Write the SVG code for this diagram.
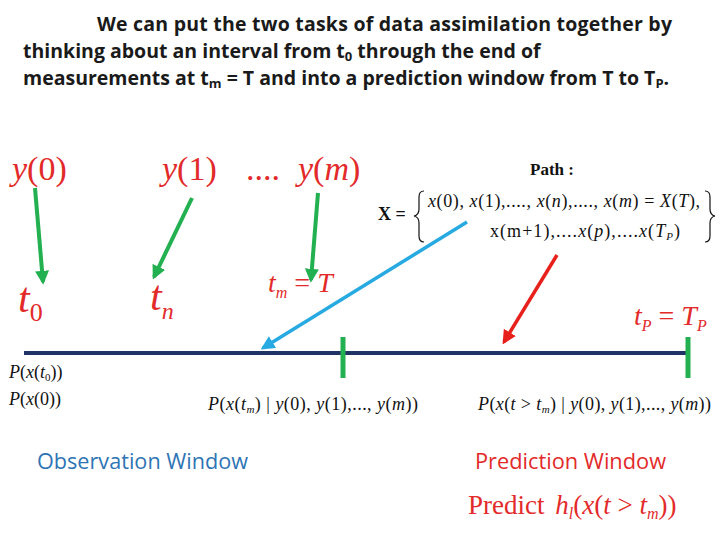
<svg xmlns="http://www.w3.org/2000/svg" width="720" height="540" viewBox="0 0 720 540">
<style>
.h{font-family:"Open Sans","Liberation Sans",sans-serif;font-weight:bold;font-size:19.5px;fill:#1a1a1a}
.m{font-family:"Liberation Serif",serif;font-style:italic}
.u{font-style:normal}
.r{fill:#e32a2a}
.k{fill:#111}
</style>
<defs>
<marker id="ag" viewBox="0 0 10 10" refX="8" refY="5" markerWidth="3.5" markerHeight="3.5" orient="auto"><path d="M0,0L10,5L0,10z" fill="#22b050"/></marker>
<marker id="ab" viewBox="0 0 10 10" refX="8" refY="5" markerWidth="4" markerHeight="4" orient="auto"><path d="M0,0L10,5L0,10z" fill="#27aae1"/></marker>
<marker id="ar" viewBox="0 0 10 10" refX="8" refY="5" markerWidth="4" markerHeight="4" orient="auto"><path d="M0,0L10,5L0,10z" fill="#e8201c"/></marker>
</defs>
<g id="title">
<text class="h" x="97" y="31" textLength="575">We can put the two tasks of data assimilation together by</text>
<text class="h" x="23" y="58">thinking about an interval from t<tspan font-size="13" dy="3">0</tspan><tspan dy="-3"> through the end of</tspan></text>
<text class="h" x="23" y="85">measurements at t<tspan font-size="13" dy="3">m</tspan><tspan dy="-3"> = T and into a prediction window from T to T</tspan><tspan font-size="13" dy="3">P</tspan><tspan dy="-3">.</tspan></text>
</g>
<g id="obs" class="m r" font-size="34">
<text x="12" y="180">y<tspan class="u">(0)</tspan></text>
<text x="162" y="180">y<tspan class="u">(1)</tspan></text>
<text x="246" y="180" class="u">....</text>
<text x="298" y="180">y<tspan class="u">(</tspan>m<tspan class="u">)</tspan></text>
</g>
<g id="times" class="m r">
<text x="18" y="312" font-size="42">t<tspan font-size="26" dy="9" class="u">0</tspan></text>
<text x="150" y="310" font-size="42">t<tspan font-size="24" dy="9">n</tspan></text>
<text x="268" y="292" font-size="28">t<tspan font-size="16" dy="6">m</tspan><tspan dy="-6" class="u"> = </tspan>T</text>
<text x="634" y="325" font-size="28">t<tspan font-size="16" dy="6">P</tspan><tspan dy="-6" class="u"> = </tspan>T<tspan font-size="16" dy="6">P</tspan></text>
</g>
<g id="path" class="k">
<text x="530" y="175" font-family="Liberation Serif,serif" font-weight="bold" font-size="17">Path :</text>
<text x="378" y="220" font-family="Liberation Serif,serif" font-weight="bold" font-size="18">X =</text>
<path d="M424,191 Q419,191 419,197 L419,209 Q419,215 414,216 Q419,217 419,223 L419,236 Q419,242 424,242" fill="none" stroke="#111" stroke-width="1.2"/>
<path d="M705,191 Q710,191 710,197 L710,209 Q710,215 715,216 Q710,217 710,223 L710,236 Q710,242 705,242" fill="none" stroke="#111" stroke-width="1.2"/>
<text class="m" x="428" y="207" font-size="18" textLength="272">x<tspan class="u">(0), </tspan>x<tspan class="u">(1),...., </tspan>x<tspan class="u">(</tspan>n<tspan class="u">),...., </tspan>x<tspan class="u">(</tspan>m<tspan class="u">) = </tspan>X<tspan class="u">(</tspan>T<tspan class="u">),</tspan></text>
<text class="m" x="490" y="237" font-size="18" textLength="190"><tspan class="u">x(m+1),....</tspan>x<tspan class="u">(</tspan>p<tspan class="u">),....</tspan>x<tspan class="u">(</tspan>T<tspan font-size="11" dy="3">P</tspan><tspan class="u" dy="-3">)</tspan></text>
</g>
<g id="axis">
<line x1="24" y1="353" x2="690" y2="353" stroke="#1f3464" stroke-width="4"/>
<line x1="343" y1="337" x2="343" y2="378" stroke="#22b050" stroke-width="5"/>
<line x1="688" y1="337" x2="688" y2="378" stroke="#22b050" stroke-width="5"/>
</g>
<g id="probs" class="m k" font-size="18">
<text x="9" y="378">P<tspan class="u">(</tspan>x<tspan class="u">(</tspan>t<tspan font-size="11" dy="3" class="u">0</tspan><tspan class="u" dy="-3">))</tspan></text>
<text x="9" y="405">P<tspan class="u">(</tspan>x<tspan class="u">(0))</tspan></text>
<text x="208" y="410" textLength="210">P<tspan class="u">(</tspan>x<tspan class="u">(</tspan>t<tspan font-size="11" dy="3">m</tspan><tspan class="u" dy="-3">) | </tspan>y<tspan class="u">(0), </tspan>y<tspan class="u">(1),..., </tspan>y<tspan class="u">(</tspan>m<tspan class="u">))</tspan></text>
<text x="478" y="410" textLength="233">P<tspan class="u">(</tspan>x<tspan class="u">(</tspan>t<tspan class="u"> &gt; </tspan>t<tspan font-size="11" dy="3">m</tspan><tspan class="u" dy="-3">) | </tspan>y<tspan class="u">(0), </tspan>y<tspan class="u">(1),..., </tspan>y<tspan class="u">(</tspan>m<tspan class="u">))</tspan></text>
</g>
<g id="connectors" stroke-width="4" fill="none">
<line x1="35" y1="188" x2="43" y2="282" stroke="#22b050" marker-end="url(#ag)"/>
<line x1="192" y1="198" x2="154" y2="277" stroke="#22b050" marker-end="url(#ag)"/>
<line x1="318" y1="193" x2="311" y2="280" stroke="#22b050" marker-end="url(#ag)"/>
<line x1="467" y1="222" x2="263" y2="348" stroke="#27aae1" stroke-width="3.5" marker-end="url(#ab)"/>
<line x1="557" y1="255" x2="504" y2="342" stroke="#e8201c" stroke-width="3.5" marker-end="url(#ar)"/>
</g>
<g id="windows" font-family="Open Sans,Liberation Sans,sans-serif" font-size="21.5">
<text x="37" y="469" fill="#2e74b5" textLength="211" lengthAdjust="spacingAndGlyphs">Observation Window</text>
<text x="475" y="469" fill="#e32a2a" textLength="191" lengthAdjust="spacingAndGlyphs">Prediction Window</text>
</g>
<g id="predict" class="r">
<text x="468" y="514" font-family="Liberation Serif,serif" font-size="27">Predict <tspan class="m" dx="4">h<tspan font-size="16" dy="5">l</tspan><tspan dy="-5" class="u">(</tspan>x<tspan class="u">(</tspan>t<tspan class="u"> &gt; </tspan>t<tspan font-size="16" dy="5">m</tspan><tspan class="u" dy="-5">))</tspan></tspan></text>
</g>
</svg>
